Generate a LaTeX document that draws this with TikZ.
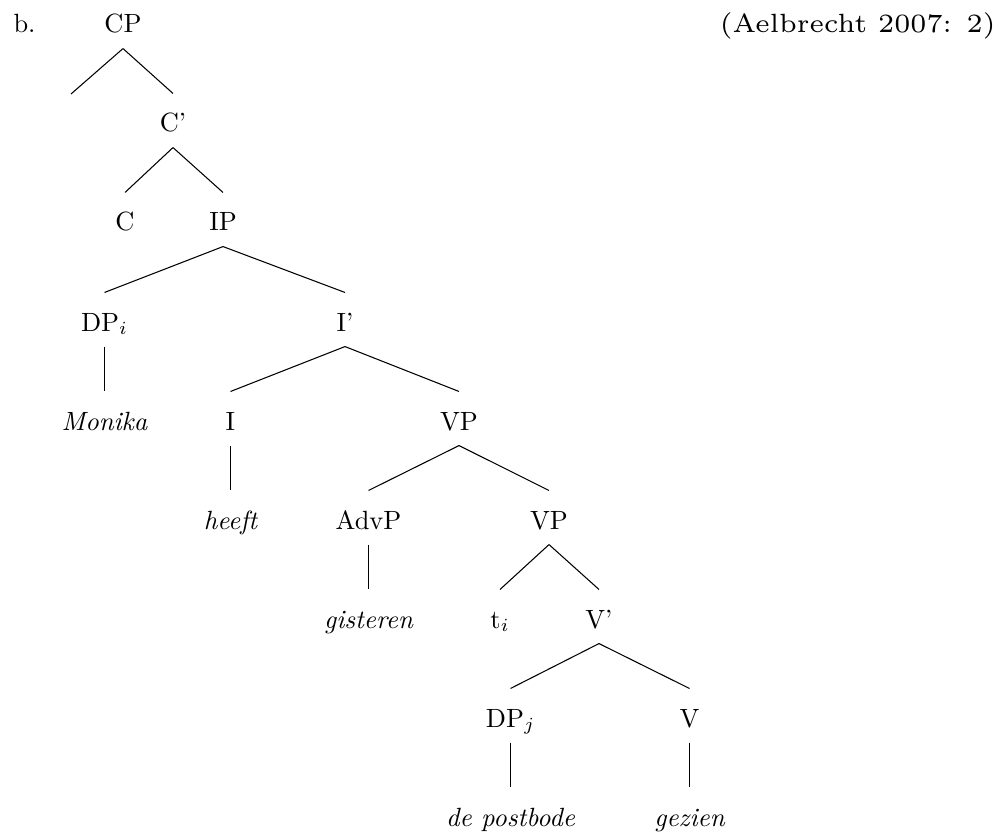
\documentclass[tikz,border=0pt]{standalone}
\begin{document}
\begin{tikzpicture}[x=0.379pt, y=-0.379pt,
  lbl/.style={anchor=base, inner sep=0pt, text height=14.4pt, text depth=5.7pt, font=\fontsize{10}{12}\selectfont},
  leaf/.style={lbl, font=\fontsize{10}{12}\selectfont\itshape},
  branch/.style={line width=0.4pt}]
\useasboundingbox (0,0) rectangle (1007,834);
% example label and source (the source set in the 6pt design, enlarged)
\node[anchor=base west, inner sep=0pt, font=\fontsize{10}{12}\selectfont] (ex) at (13,33) {b.};
\node[anchor=base east, inner sep=0pt] (src) at (996,33)
  {\scalebox{1.6667}{\fontsize{6}{7}\selectfont (Aelbrecht 2007: 2)}};
% tree nodes, one row per level
\node[lbl] (cp) at (123,33) {CP};
\coordinate (spec) at (71,94);
\node[lbl] (cbar) at (173,132) {C'};
\node[lbl] (c) at (125,231) {C};
\node[lbl] (ip) at (223,231) {IP};
\node[lbl] (dpi) at (104.5,331) {DP$_i$};
\node[lbl] (ibar) at (345,331) {I'};
\node[leaf] (monika) at (104.5,430) {Monika};
\node[lbl] (i) at (230.5,430) {I};
\node[lbl] (vp) at (459,430) {VP};
\node[leaf] (heeft) at (230.5,529) {heeft};
\node[lbl] (advp) at (368.5,529) {AdvP};
\node[lbl] (vpb) at (549,529) {VP};
\node[leaf] (gisteren) at (368.5,628) {gisteren};
\node[lbl] (ti) at (500,628) {t$_i$};
\node[lbl] (vbar) at (599,628) {V'};
\node[lbl] (dpj) at (510.5,727) {DP$_j$};
\node[lbl] (v) at (689.5,727) {V};
\node[leaf] (postbode) at (510.5,826) {de postbode};
\node[leaf] (gezien) at (689.5,826) {gezien};
% branches
\draw[branch] (cp.south) -- (spec);
\draw[branch] (cp.south) -- (cbar.north);
\draw[branch] (cbar.south) -- (c.north);
\draw[branch] (cbar.south) -- (ip.north);
\draw[branch] (ip.south) -- (dpi.north);
\draw[branch] (ip.south) -- (ibar.north);
\draw[branch] (dpi.south) -- (monika.north);
\draw[branch] (ibar.south) -- (i.north);
\draw[branch] (ibar.south) -- (vp.north);
\draw[branch] (i.south) -- (heeft.north);
\draw[branch] (vp.south) -- (advp.north);
\draw[branch] (vp.south) -- (vpb.north);
\draw[branch] (advp.south) -- (gisteren.north);
\draw[branch] (vpb.south) -- (ti.north);
\draw[branch] (vpb.south) -- (vbar.north);
\draw[branch] (vbar.south) -- (dpj.north);
\draw[branch] (vbar.south) -- (v.north);
\draw[branch] (dpj.south) -- (postbode.north);
\draw[branch] (v.south) -- (gezien.north);
\end{tikzpicture}
\end{document}
